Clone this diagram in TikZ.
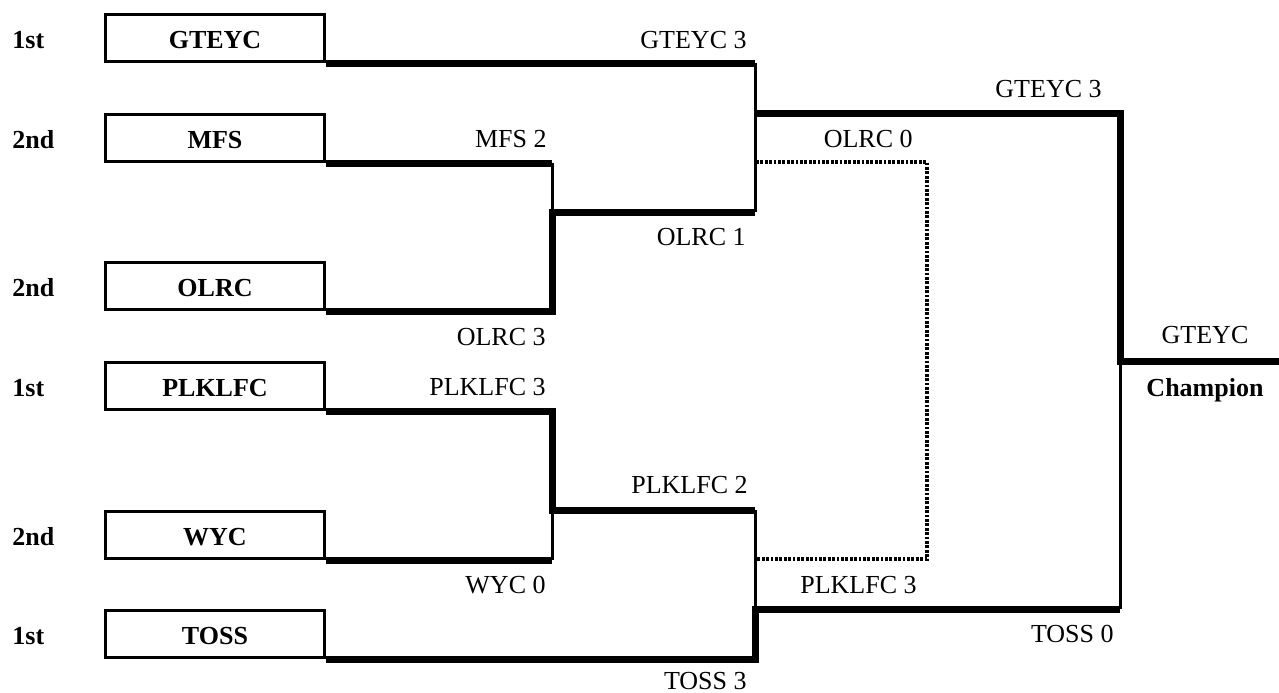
\documentclass[tikz,border=0pt]{standalone}
\usepackage{fontspec}
\setmainfont{Liberation Serif}
\begin{document}
\begin{tikzpicture}[x=0.5pt,y=-0.5pt,font=\fontsize{13}{15}\selectfont]
\tikzset{
  team/.style={draw, line width=1.5pt, minimum width=109.5pt, minimum height=23.5pt, inner sep=0pt, text height=10.5pt, text depth=0pt, font=\fontsize{13}{15}\selectfont\bfseries},
  rank/.style={anchor=base west, inner sep=0pt, font=\fontsize{13}{15}\selectfont\bfseries},
  score/.style={anchor=base east, inner sep=0pt},
  win/.style={line width=3.5pt},
  lose/.style={line width=1.5pt},
  elim/.style={line width=1.8pt, dash pattern=on 1.4pt off 0.8pt},
}
\useasboundingbox (0,0) rectangle (1279,692);

% team boxes
\node[team] (gteyc)  at (215,38)  {GTEYC};
\node[team] (mfs)    at (215,138) {MFS};
\node[team] (olrc)   at (215,286) {OLRC};
\node[team] (plklfc) at (215,386) {PLKLFC};
\node[team] (wyc)    at (215,535) {WYC};
\node[team] (toss)   at (215,634) {TOSS};

% ranks
\node[rank] (r1) at (12,48)  {1st};
\node[rank] (r2) at (12,148) {2nd};
\node[rank] (r3) at (12,296) {2nd};
\node[rank] (r4) at (12,396) {1st};
\node[rank] (r5) at (12,545) {2nd};
\node[rank] (r6) at (12,644) {1st};

% junctions
\coordinate (a1) at (552,212);
\coordinate (b1) at (552,510);
\coordinate (a2) at (755,113);
\coordinate (a2o) at (755,212);
\coordinate (b2) at (755,609);
\coordinate (b2p) at (755,510);
\coordinate (c) at (1120,361);
\coordinate (champ) at (1279,361);
\coordinate (e1) at (756,162);
\coordinate (d1) at (927,162);
\coordinate (d2) at (927,559);
\coordinate (e2) at (756,559);

% connectors
\draw[win] (gteyc.south east) -- (gteyc.south east -| a2);
\draw[lose] (gteyc.south east -| a2) -- (a2o);
\draw[win] (mfs.south east) -- (mfs.south east -| a1);
\draw[lose] (mfs.south east -| a1) -- (a1);
\draw[win] (olrc.south east) -- (olrc.south east -| a1) -- (a1) -- (a2o);
\draw[win] (a2) -- (a2 -| c) -- (c) -- (champ);
\draw[win] (plklfc.south east) -- (plklfc.south east -| b1) -- (b1) -- (b2p);
\draw[win] (wyc.south east) -- (wyc.south east -| b1);
\draw[lose] (wyc.south east -| b1) -- (b1);
\draw[lose] (b2p) -- (b2);
\draw[win] (toss.south east) -- (toss.south east -| b2) -- (b2) -- (b2 -| c);
\draw[lose] (b2 -| c) -- (c);
\draw[elim] (e1) -- (d1) -- (d2) -- (e2);

% scores
\node[score] (s1)  at (747,48)   {GTEYC 3};
\node[score] (s2)  at (547,147)  {MFS 2};
\node[score] (s3)  at (746,245)  {OLRC 1};
\node[score] (s4)  at (546,345)  {OLRC 3};
\node[score] (s5)  at (546,395)  {PLKLFC 3};
\node[score] (s6)  at (748,493)  {PLKLFC 2};
\node[score] (s7)  at (546,593)  {WYC 0};
\node[score] (s8)  at (747,689)  {TOSS 3};
\node[score] (s9)  at (1102,97)  {GTEYC 3};
\node[score] (s10) at (913,147)  {OLRC 0};
\node[score] (s11) at (917,593)  {PLKLFC 3};
\node[score] (s12) at (1114,642) {TOSS 0};
\node[anchor=base, inner sep=0pt] (winner) at (1205,343) {GTEYC};
\node[anchor=base, inner sep=0pt, font=\fontsize{13}{15}\selectfont\bfseries] (champion) at (1205,396) {Champion};
\end{tikzpicture}
\end{document}
